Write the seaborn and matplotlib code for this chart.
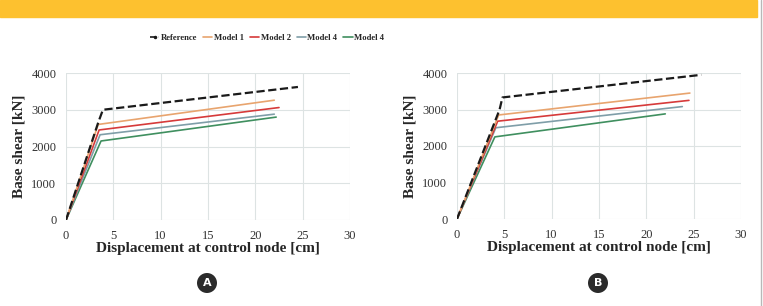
import pandas as pd
import numpy as np
import matplotlib
matplotlib.use("Agg")
import matplotlib.pyplot as plt
from matplotlib.patches import Rectangle
from matplotlib.lines import Line2D
import seaborn as sns

# series names and colours
series = ["Reference", "Model 1", "Model 2", "Model 4", "Model 4 "]
colors = ["#1a1a1a", "#E8A46E", "#D63A3A", "#7F9EA8", "#3F8F5F"]

# panel A curves (displacement cm, base shear kN)
a_ref_x = [0, 3.4, 3.9, 24.5]
a_ref_y = [0, 2650, 3000, 3620]
a_m1_x = [0, 3.4, 22.0]
a_m1_y = [0, 2600, 3260]
a_m2_x = [0, 3.5, 22.5]
a_m2_y = [0, 2450, 3060]
a_m3_x = [0, 3.6, 22.0]
a_m3_y = [0, 2320, 2880]
a_m4_x = [0, 3.7, 22.2]
a_m4_y = [0, 2150, 2800]

# panel B curves
b_ref_x = [0, 4.5, 4.8, 25.8]
b_ref_y = [0, 3000, 3330, 3950]
b_m1_x = [0, 4.4, 24.6]
b_m1_y = [0, 2850, 3450]
b_m2_x = [0, 4.3, 24.5]
b_m2_y = [0, 2680, 3250]
b_m3_x = [0, 4.1, 23.8]
b_m3_y = [0, 2500, 3080]
b_m4_x = [0, 4.0, 22.0]
b_m4_y = [0, 2250, 2880]

panel_a = [(a_ref_x, a_ref_y), (a_m1_x, a_m1_y), (a_m2_x, a_m2_y), (a_m3_x, a_m3_y), (a_m4_x, a_m4_y)]
panel_b = [(b_ref_x, b_ref_y), (b_m1_x, b_m1_y), (b_m2_x, b_m2_y), (b_m3_x, b_m3_y), (b_m4_x, b_m4_y)]

sns.set_style("whitegrid")
plt.rcParams['font.family'] = ['Liberation Serif', 'DejaVu Serif']

W, H = 763, 306
fig = plt.figure(figsize=(W / 100, H / 100), dpi=100)

# yellow band and right border
fig.patches.append(Rectangle((0, 1 - 17 / H), 757 / W, 17 / H, transform=fig.transFigure,
                             color="#FDC12F", zorder=0))
fig.add_artist(Line2D([761 / W, 761 / W], [0, 1], transform=fig.transFigure, color="#b8b8b8", lw=1))


def draw(ax, panel):
    for i, (xs, ys) in enumerate(panel):
        df = pd.DataFrame({"x": xs, "y": ys})
        sns.lineplot(data=df, x="x", y="y", ax=ax, sort=False, color=colors[i],
                     lw=1.6 if i == 0 else 1.2, linestyle="--" if i == 0 else "-",
                     zorder=5 - i if i else 6)
    ax.set_xlim(0, 30)
    ax.set_ylim(0, 4000)
    ax.set_xticks(range(0, 31, 5))
    ax.set_yticks(range(0, 4001, 1000))
    ax.grid(color="#dde3e3", lw=0.8)
    for s in ax.spines.values():
        s.set_visible(False)
    ax.tick_params(labelsize=9, colors="#333333", length=0, pad=7)
    ax.set_xlabel("Displacement at control node [cm]", fontsize=11, fontweight="bold", labelpad=0)
    ax.set_ylabel("Base shear [kN]", fontsize=11, fontweight="bold", labelpad=4)


ax1 = fig.add_axes([66 / W, 1 - 220 / H, 284 / W, 147 / H])
draw(ax1, panel_a)
ax2 = fig.add_axes([457 / W, 1 - 219 / H, 284 / W, 146 / H])
draw(ax2, panel_b)

handles = [Line2D([], [], color=colors[i], lw=1.2, linestyle="--" if i == 0 else "-",
                  marker="." if i == 0 else None, markersize=3) for i in range(5)]
fig.legend(handles, [s.strip() for s in series], loc="center", bbox_to_anchor=(267 / W, 1 - 38 / H),
           ncol=5, frameon=False, prop={"size": 6.2, "weight": "bold"}, handlelength=1.1,
           handletextpad=0.15, columnspacing=0.7)

for label, px in [("A", 207), ("B", 598)]:
    fig.text(px / W, 1 - 283 / H, label, ha="center", va="center", color="white",
             fontsize=8, fontweight="bold", family="DejaVu Sans",
             bbox=dict(boxstyle="circle,pad=0.45", fc="#2b2b2b", ec="none"))

fig.savefig("out.png", dpi=100)
